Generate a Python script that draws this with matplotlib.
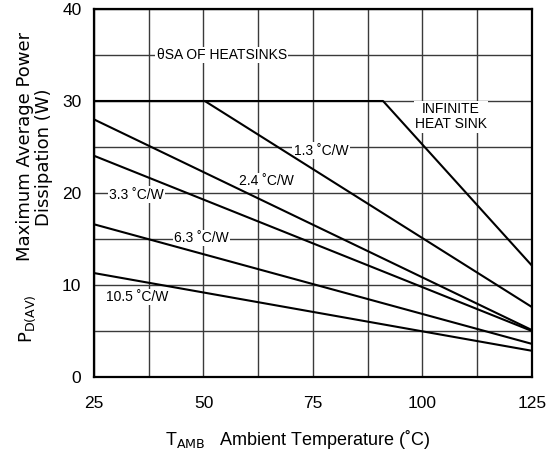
import matplotlib
matplotlib.use("Agg")
import matplotlib.pyplot as plt
import numpy as np

plt.rcParams["font.family"] = ["Liberation Sans", "DejaVu Sans"]

# heatsink curves: (x, y) breakpoints
infinite_x = [25, 91, 125]
infinite_y = [30, 30, 12.1]
hs13_x = [25, 50.3, 125]
hs13_y = [30, 30, 7.6]
hs24_x = [25, 125]
hs24_y = [28.0, 5.1]
hs33_x = [25, 125]
hs33_y = [24.05, 5.0]
hs63_x = [25, 125]
hs63_y = [16.6, 3.6]
hs105_x = [25, 125]
hs105_y = [11.3, 2.85]

x_ticks = [25, 50, 75, 100, 125]
y_ticks = [0, 10, 20, 30, 40]

# label text and anchor (data coords)
labels = [
    ("\u03b8SA OF HEATSINKS", 54.2, 35.0),
    ("INFINITE\nHEAT SINK", 106.5, 28.3),
    ("1.3 \u02daC/W", 76.8, 24.6),
    ("2.4 \u02daC/W", 64.4, 21.3),
    ("3.3 \u02daC/W", 34.7, 19.8),
    ("6.3 \u02daC/W", 49.6, 15.1),
    ("10.5 \u02daC/W", 34.9, 8.7),
]

fig = plt.figure(figsize=(5.49, 4.55), dpi=100)
ax = fig.add_axes([0.1712, 0.1714, 0.7978, 0.8088])

for xs, ys in ((infinite_x, infinite_y), (hs13_x, hs13_y), (hs24_x, hs24_y),
               (hs33_x, hs33_y), (hs63_x, hs63_y), (hs105_x, hs105_y)):
    ax.plot(xs, ys, color="black", lw=1.5, zorder=2, solid_capstyle="butt")

ax.set_xlim(25, 125)
ax.set_ylim(0, 40)
ax.set_xticks(x_ticks)
ax.set_yticks(y_ticks)
ax.set_xticks(np.arange(25, 126, 12.5), minor=True)
ax.set_yticks(np.arange(0, 41, 5), minor=True)
ax.grid(which="both", color="#3a3a3a", lw=1.0)
ax.set_axisbelow(True)
ax.tick_params(which="both", length=0, labelsize=12.5)
ax.tick_params(axis="x", pad=14)
ax.tick_params(axis="y", pad=9)
for s in ax.spines.values():
    s.set_linewidth(1.6)

for txt, x, y in labels:
    ax.text(x, y, txt, ha="center", va="center", fontsize=10, zorder=1.5,
            linespacing=1.1,
            bbox=dict(facecolor="white", edgecolor="none", pad=1.0))

fig.text(0.543, 0.035, "T$_{\\rm AMB}$   Ambient Temperature (\u02daC)",
         ha="center", va="center", fontsize=13)
ylab_font = dict(rotation=90, ha="center", va="center", fontsize=13,
                 family="DejaVu Sans")
fig.text(0.050, 0.30, "P$_{\\rm D(AV)}$", **ylab_font)
fig.text(0.046, 0.679, "Maximum Average Power", **ylab_font)
fig.text(0.080, 0.655, "Dissipation (W)", **ylab_font)

fig.savefig("out.png", dpi=100)
